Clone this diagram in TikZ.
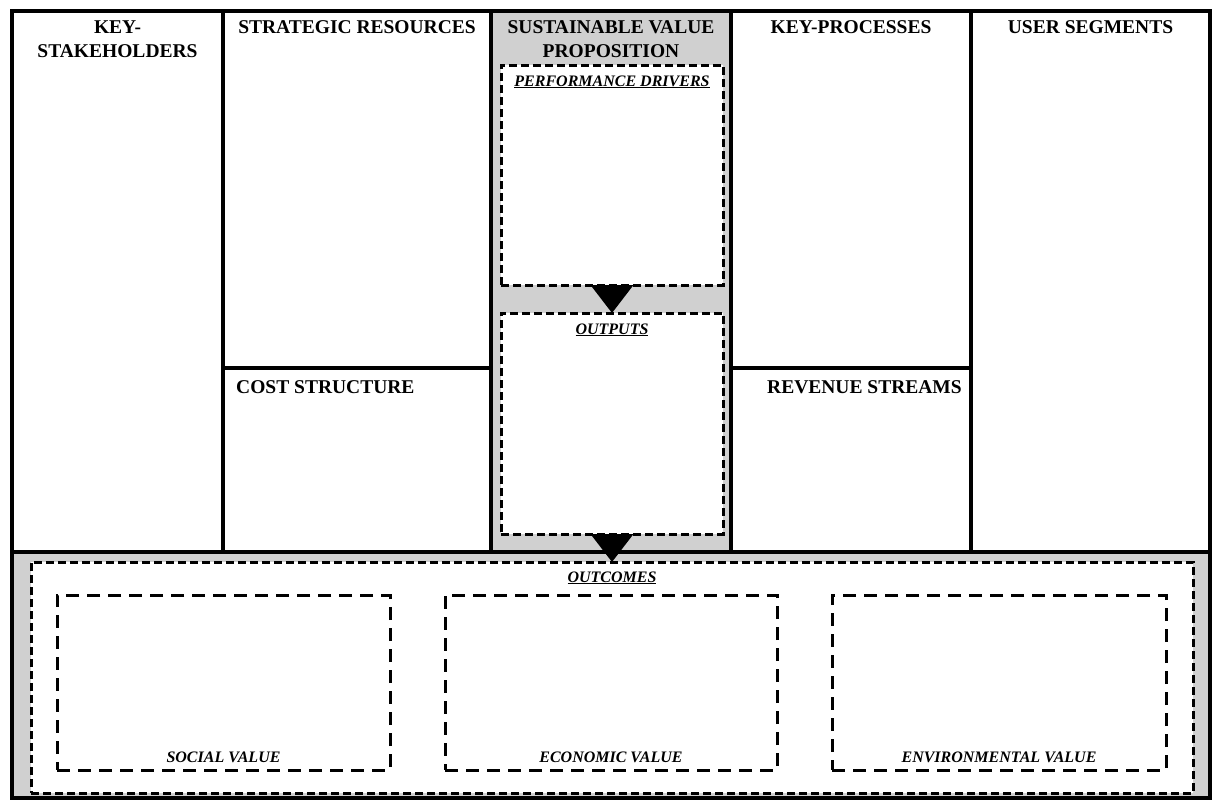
\documentclass[tikz,border=0pt]{standalone}
\usepackage{fontspec}
\setmainfont{Liberation Serif}
\usetikzlibrary{calc}
\definecolor{panelgray}{RGB}{208,208,208}

\begin{document}
\begin{tikzpicture}[x=1pt,y=-1pt,
  cell/.style={draw, line width=3.2pt, inner sep=0pt, outer sep=0pt, anchor=north west},
  grayfill/.style={fill=panelgray},
  innerbox/.style={draw, fill=white, line width=3pt, dash pattern=on 8pt off 4pt,
    inner sep=0pt, outer sep=0pt, anchor=north west},
  valuebox/.style={draw, fill=white, line width=3pt, dash pattern=on 13pt off 8pt,
    inner sep=0pt, outer sep=0pt, anchor=north west},
  head/.style={font=\fontsize{19.5}{24}\selectfont\bfseries, align=center, anchor=base, inner sep=0pt},
  headl/.style={font=\fontsize{19.5}{24}\selectfont\bfseries, anchor=base west, inner sep=0pt},
  sub/.style={font=\fontsize{16}{18}\selectfont\bfseries\itshape, anchor=base, inner sep=0pt},
  flow/.style={fill=black}
]
\useasboundingbox[fill=white] (0,0) rectangle (1213,801);

% canvas blocks
\node[cell, grayfill, minimum width=1198pt, minimum height=246pt] (bottom) at (12,552) {};
\node[cell, grayfill, minimum width=240pt, minimum height=541pt] (svp) at (491,11) {};
\node[cell, minimum width=211pt, minimum height=541pt] (ks) at (12,11) {};
\node[cell, minimum width=268pt, minimum height=357pt] (sr) at (223,11) {};
\node[cell, minimum width=268pt, minimum height=184pt] (cs) at (223,368) {};
\node[cell, minimum width=240pt, minimum height=357pt] (kp) at (731,11) {};
\node[cell, minimum width=240pt, minimum height=184pt] (rs) at (731,368) {};
\node[cell, minimum width=239pt, minimum height=541pt] (us) at (971,11) {};

% value proposition chain
\node[innerbox, minimum width=222pt, minimum height=220pt] (pd) at (501,65) {};
\node[innerbox, minimum width=222pt, minimum height=221pt] (op) at (501,313) {};
\node[innerbox, minimum width=1162pt, minimum height=231pt] (oc) at (31,562) {};

% value boxes
\node[valuebox, minimum width=333pt, minimum height=175pt] (sv) at (57,595) {};
\node[valuebox, minimum width=332pt, minimum height=175pt] (ev) at (445,595) {};
\node[valuebox, minimum width=334pt, minimum height=175pt] (nv) at (832,595) {};

% arrows between stages
\fill[flow] ($(pd.south)+(-21.5,0)$) -- ($(pd.south)+(21.5,0)$) -- (op.north) -- cycle;
\fill[flow] ($(op.south)+(-21.5,0)$) -- ($(op.south)+(21.5,0)$) -- (oc.north) -- cycle;

% headings (multi-line nodes sit on the base of their last line)
\node[head] (tks) at ($(ks.north)+(0,46)$) {KEY-\\STAKEHOLDERS};
\node[head] (tsr) at ($(sr.north)+(0,22)$) {STRATEGIC RESOURCES};
\node[head] (tsvp) at ($(svp.north)+(0,46)$) {SUSTAINABLE VALUE\\PROPOSITION};
\node[head] (tkp) at ($(kp.north)+(0,22)$) {KEY-PROCESSES};
\node[head] (tus) at ($(us.north)+(0,22)$) {USER SEGMENTS};
\node[headl] (tcs) at ($(cs.north west)+(13,25)$) {COST STRUCTURE};
\node[headl] (trs) at ($(rs.north west)+(36,25)$) {REVENUE STREAMS};

% stage labels
\node[sub] (tpd) at ($(pd.north)+(0,21)$) {\underline{PERFORMANCE DRIVERS}};
\node[sub] (top) at ($(op.north)+(0,21)$) {\underline{OUTPUTS}};
\node[sub] (toc) at ($(oc.north)+(0,20)$) {\underline{OUTCOMES}};
\node[sub] (tsv) at ($(sv.south)+(0,-8)$) {SOCIAL VALUE};
\node[sub] (tev) at ($(ev.south)+(0,-8)$) {ECONOMIC VALUE};
\node[sub] (tnv) at ($(nv.south)+(0,-8)$) {ENVIRONMENTAL VALUE};
\end{tikzpicture}
\end{document}
